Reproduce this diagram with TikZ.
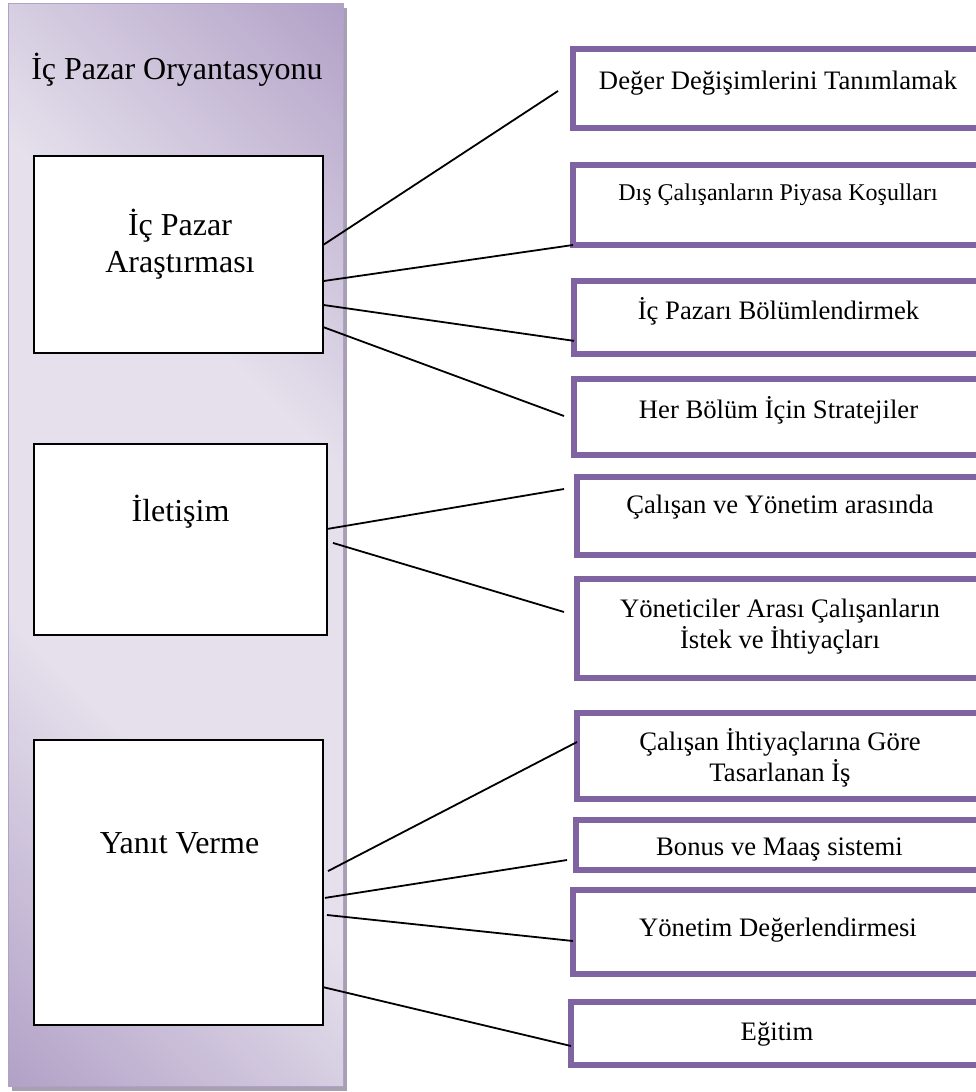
\documentclass[tikz,border=0pt]{standalone}
\usepackage{fontspec}
\setmainfont{Liberation Serif}
\usetikzlibrary{calc}
\definecolor{gdark}{HTML}{B2A1C7}
\definecolor{glight}{HTML}{E5E0EC}
\definecolor{rim}{HTML}{8064A2}
\definecolor{shadowc}{HTML}{A7A0B2}
% lavender band: dark at two opposite corners, light along the other diagonal
\pgfdeclarehorizontalshading{colgrad}{100bp}{color(0bp)=(gdark); color(14.6bp)=(gdark); color(38bp)=(glight); color(62bp)=(glight); color(85.4bp)=(gdark); color(100bp)=(gdark)}

\begin{document}
\begin{tikzpicture}[x=0.75pt, y=-0.75pt,
  boxsize/.style 2 args={minimum width=#1*0.75pt, minimum height=#2*0.75pt},
  lbox/.style={draw=black, line width=1.4pt, fill=white, inner sep=0pt, outer sep=0pt},
  rbox/.style={draw=rim, line width=4.5pt, fill=white, inner sep=0pt, outer sep=0pt},
  link/.style={draw=black, line width=1.35pt},
  ltext/.style={font=\fontsize{24}{27.5}\selectfont, align=center, anchor=base, inner sep=0pt},
  rtext/.style={font=\fontsize{20}{23.25}\selectfont, align=center, anchor=base, inner sep=0pt},
]
\useasboundingbox (0,0) rectangle (975,1092);

% side column with drop shadow
\fill[shadowc] (12,8) rectangle (347,1091);
\shade[shading=colgrad, shading angle=45] (8,3) rectangle (343,1086);
\draw[gdark, line width=0.75pt] (8,3) rectangle (343,1086);
\node[font=\fontsize{24}{28}\selectfont, anchor=base, inner sep=0pt] (title) at (177,79) {İç Pazar Oryantasyonu};

% stages inside the column
\node[lbox, boxsize={289}{197}] (L1) at (178.5,254.5) {};
\node[lbox, boxsize={293}{191}] (L2) at (180.5,539.5) {};
\node[lbox, boxsize={289}{285}] (L3) at (178.5,882.5) {};
% a multi-line node sits on the baseline of its last line
\node[ltext] (t1) at ($(L1.north)+(1.5,116)$) {İç Pazar\\Araştırması};
\node[ltext] (t2) at ($(L2.north)+(0,77)$) {İletişim};
\node[ltext] (t3) at ($(L3.north)+(1,113)$) {Yanıt Verme};

% activities on the right
\node[rbox, boxsize={410}{79}] (R1) at (778,88.5) {};
\node[rbox, boxsize={410}{80}] (R2) at (778,205) {};
\node[rbox, boxsize={409}{73}] (R3) at (778.5,317.5) {};
\node[rbox, boxsize={409}{76}] (R4) at (778.5,417) {};
\node[rbox, boxsize={406}{78}] (R5) at (780,516) {};
\node[rbox, boxsize={406}{99}] (R6) at (780,628.5) {};
\node[rbox, boxsize={406}{86}] (R7) at (780,756) {};
\node[rbox, boxsize={407}{50}] (R8) at (779.5,845) {};
\node[rbox, boxsize={410}{84}] (R9) at (778,932) {};
\node[rbox, boxsize={412}{63}] (R10) at (777,1033.5) {};

\node[rtext] (s1) at ($(R1.north)+(0,40)$) {Değer Değişimlerini Tanımlamak};
\node[rtext, font=\fontsize{18}{21}\selectfont] (s2) at ($(R2.north)+(0,35)$) {Dış Çalışanların Piyasa Koşulları};
\node[rtext] (s3) at ($(R3.north)+(0,38)$) {İç Pazarı Bölümlendirmek};
\node[rtext] (s4) at ($(R4.north)+(0,39)$) {Her Bölüm İçin Stratejiler};
\node[rtext] (s5) at ($(R5.north)+(0,36)$) {Çalışan ve Yönetim arasında};
\node[rtext] (s6) at ($(R6.north)+(0,69)$) {Yöneticiler Arası Çalışanların\\İstek ve İhtiyaçları};
\node[rtext] (s7) at ($(R7.north)+(0,68)$) {Çalışan İhtiyaçlarına Göre\\Tasarlanan İş};
\node[rtext] (s8) at ($(R8.north)+(0,35)$) {Bonus ve Maaş sistemi};
\node[rtext] (s9) at ($(R9.north)+(0,46)$) {Yönetim Değerlendirmesi};
\node[rtext] (s10) at ($(R10.north)+(0,38)$) {Eğitim};

% connectors
\draw[link] ($(L1.north east)!0.452!(L1.south east)$) -- ($(R1.west)+(-15,2.5)$);
\draw[link] ($(L1.north east)!0.635!(L1.south east)$) -- (R2.south west);
\draw[link] ($(L1.north east)!0.756!(L1.south east)$) -- ($(R3.north west)!0.82!(R3.south west)$);
\draw[link] ($(L1.north east)!0.868!(L1.south east)$) -- ($(R4.west)+(-10,-1)$);
\draw[link] ($(L2.north east)!0.445!(L2.south east)$) -- ($(R5.west)+(-13,-27)$);
\draw[link] ($(L2.north east)!0.518!(L2.south east)+(6,0)$) -- ($(R6.west)+(-13,-16.5)$);
\draw[link] ($(L3.north east)!0.46!(L3.south east)+(5,0)$) -- ($(R7.north west)!0.337!(R7.south west)$);
\draw[link] ($(L3.north east)!0.554!(L3.south east)+(2,0)$) -- ($(R8.west)+(-9,15)$);
\draw[link] ($(L3.north east)!0.614!(L3.south east)+(4,0)$) -- ($(R9.west)+(0,9)$);
\draw[link] ($(L3.north east)!0.867!(L3.south east)$) -- ($(R10.west)+(0,12.5)$);
\end{tikzpicture}
\end{document}
